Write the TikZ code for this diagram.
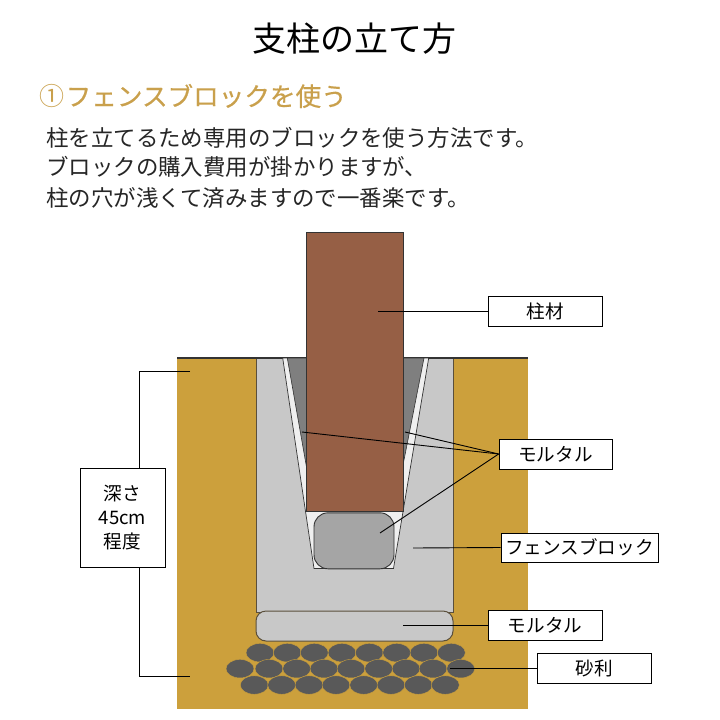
\documentclass[tikz,border=0pt]{standalone}
\usepackage{fontspec}
\setmainfont{Noto Sans CJK JP}
\newfontfamily\headfont[FakeBold=0.5]{Noto Sans CJK JP}
\usetikzlibrary{positioning,shapes.geometric}
\definecolor{soil}{HTML}{CCA03C}
\definecolor{wood}{HTML}{965F45}
\definecolor{block}{HTML}{C8C8C8}
\definecolor{edge}{HTML}{5A4F3C}
\definecolor{pebble}{HTML}{595959}
\definecolor{grout}{HTML}{7F7F7F}
\definecolor{gap}{HTML}{EFEFEF}
\definecolor{stone}{HTML}{A5A5A5}
\definecolor{heading}{HTML}{C9A04C}
\tikzset{
	label box/.style = {draw, fill=white, line width=0.8pt, minimum height=30pt, inner sep=0pt, font=\fontsize{18.6}{18.6}\selectfont},
	leader/.style = {draw, line width=0.9pt},
	body line/.style = {anchor=west, inner sep=0pt, text=black!85, font=\fontsize{22.45}{22.45}\selectfont},
	gravel/.style = {fill=pebble, draw=soil, line width=0.4pt, ellipse, minimum width=28pt, minimum height=18.5pt, inner sep=0pt}
}
\begin{document}
\begin{tikzpicture}[x=1pt,y=-1pt]
\useasboundingbox (0,0) rectangle (720,720);

% texts on top
\node (title) at (354,39) {\fontsize{34}{34}\selectfont 支柱の立て方};
\node[anchor=west, inner sep=0pt, text=heading] (number) at (39,96) {\fontsize{25}{25}\selectfont ①};
\node[anchor=west, inner sep=0pt, text=heading] (head) at (65.5,96) {\fontsize{25.6}{25.6}\selectfont\headfont フェンスブロックを使う};
\node[body line] (line1) at (46,138) {柱を立てるため専用のブロックを使う方法です。};
\node[body line] (line2) at (46,167) {ブロックの購入費用が掛かりますが、};
\node[body line] (line3) at (46,198) {柱の穴が浅くて済みますので一番楽です。};

% ground
\fill[soil] (177,358) rectangle (528,709);
\fill[block, draw=edge, line width=1pt] (256,358) rectangle (453,612);
\draw[line width=1.2pt, black!80] (177,358) -- (528,358);

% hole
\fill[gap, draw=black!80, line width=0.7pt] (282.7,358) -- (314,568.5) -- (393.5,568.5) -- (428.7,358) -- cycle;
\fill[grout, draw=black!80, line width=0.6pt] (287.3,358) -- (306.5,467) -- (306.5,358) -- cycle;
\fill[grout, draw=black!80, line width=0.6pt] (424,358) -- (403,465) -- (403,358) -- cycle;
\node[draw=black!80, fill=stone, rounded corners=14pt, line width=0.9pt, minimum width=80pt, minimum height=56pt, inner sep=0pt] (stone) at (354,540.8) {};
\draw[fill=wood, draw=black!80, line width=0.8pt] (306.5,232) rectangle (403,511);

% base and gravel
\node[draw=edge, fill=block, rounded corners=10pt, line width=1pt, minimum width=197pt, minimum height=30pt, inner sep=0pt] (base) at (354.5,626) {};
\foreach \x in {260,287.3,314.3,342,369.3,396.7,424,451.3}
	\node[gravel] at (\x,652.7) {};
\foreach \x in {240,269,296.7,324,351,378.7,406,433,460.7}
	\node[gravel] at (\x,668.7) {};
\foreach \x in {254.3,281.7,309,336,363.7,391,418.3,445.3}
	\node[gravel] at (\x,685) {};

% label boxes
\node[label box, minimum width=114pt] (post) at (545,311) {柱材};
\node[label box, minimum width=113pt] (mortar) at (555.5,454) {モルタル};
\node[label box, minimum width=157pt, minimum height=29pt] (fence) at (579.5,547.5) {フェンスブロック};
\node[label box, minimum width=114pt] (bed) at (545,625) {モルタル};
\node[label box, minimum width=114pt] (pebbles) at (594,668) {砂利};

% leaders
\coordinate (post end) at (378,311);
\coordinate (left end) at (302,432);
\coordinate (right end) at (405,432);
\coordinate (stone end) at (380,533);
\coordinate (fence end) at (413,548);
\coordinate (bed end) at (403,625);
\coordinate (pebbles end) at (450,668);
\coordinate (depth top) at (190,371);
\coordinate (depth bottom) at (190,676);
\path[leader] (post end) -- (post.west);
\path[leader] (left end) -- (mortar.west);
\path[leader] (right end) -- (mortar.west);
\path[leader] (stone end) -- (mortar.west);
\path[leader] (fence end) -- (fence.west);
\path[leader] (bed end) -- (bed.west);
\path[leader] (pebbles end) -- (pebbles.west);

% depth
\path[leader] (depth top) -- (139,371) -- (139,676) -- (depth bottom);
\node[label box, minimum width=85pt, minimum height=99pt, align=center, font=\fontsize{18.6}{24}\selectfont] (depth) at (122.5,517.5) {深さ\\45cm\\程度};
\end{tikzpicture}
\end{document}
